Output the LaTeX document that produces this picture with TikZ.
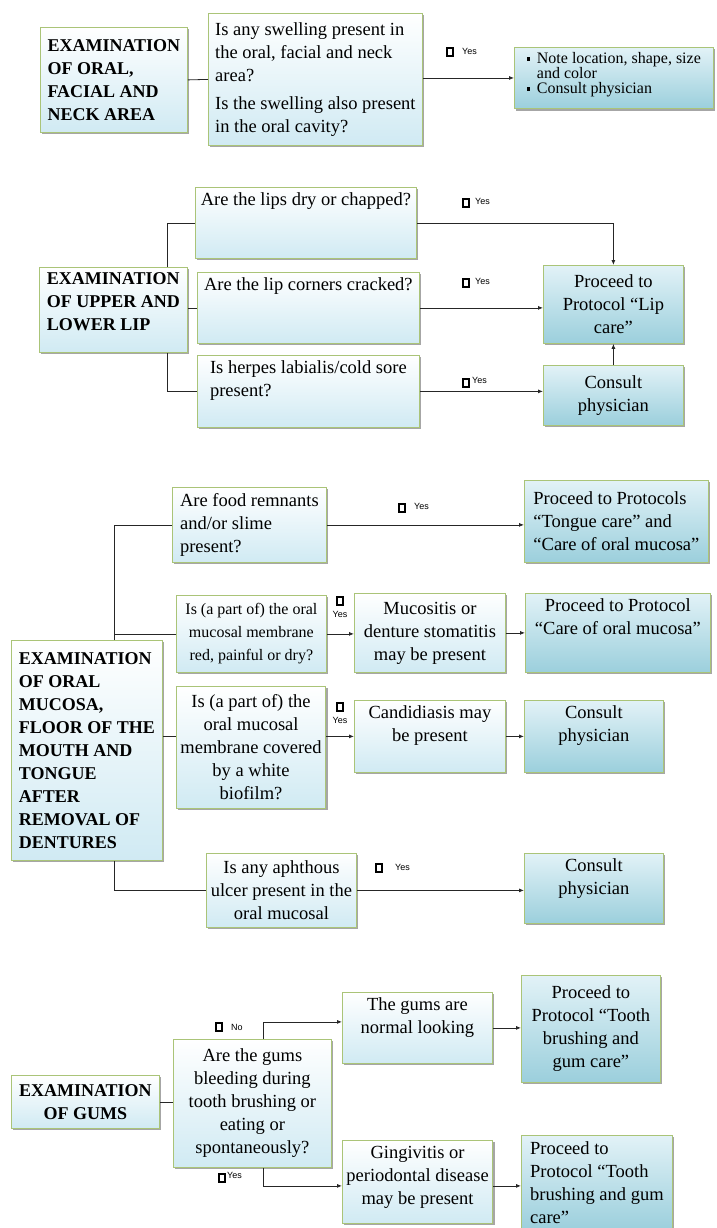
\documentclass[tikz,border=0pt]{standalone}
\usepackage{fontspec}
\setmainfont{Liberation Serif}
\newfontfamily\yesfont{Liberation Sans}
\usetikzlibrary{shadows,arrows.meta}
\definecolor{boxline}{RGB}{170,196,120}
\definecolor{qblue}{RGB}{208,234,243}
\definecolor{ptop}{RGB}{226,242,247}
\definecolor{pblue}{RGB}{155,207,220}
\newcommand{\bul}{\makebox[10pt][l]{\rule[3pt]{3.5pt}{3.5pt}}}
\tikzset{
  qbox/.style={draw=boxline, line width=0.8pt, top color=white, bottom color=qblue,
    drop shadow={shadow xshift=2pt, shadow yshift=-2pt, fill=black, opacity=0.35},
    inner xsep=4pt, inner ysep=5pt, anchor=north west, align=left,
    font=\fontsize{18.5}{23}\selectfont},
  pbox/.style={qbox, top color=ptop, bottom color=pblue},
  hbox/.style={qbox, font=\fontsize{18}{23}\selectfont\bfseries},
  chk/.style={draw, line width=1.5pt, minimum width=6pt, minimum height=8pt, inner sep=0pt},
  yes/.style={font=\yesfont\fontsize{9}{10}\selectfont, inner sep=0pt},
  link/.style={line width=0.8pt, black!85},
}

\begin{document}
\begin{tikzpicture}[x=1pt, y=-1pt, >={Latex[length=5pt,width=4pt]}]
  \fill[white] (0,0) rectangle (716,1228);
  \useasboundingbox (0,0) rectangle (716,1228);

  % oral, facial and neck area
  \node[hbox, minimum width=147pt, minimum height=105pt] (t1) at (40,27) {EXAMINATION\\OF ORAL,\\FACIAL AND\\NECK AREA};
  \node[qbox, minimum width=214pt, minimum height=132pt] (q1) at (208,13) {Is any swelling present in\\the oral, facial and neck\\area?\\[5pt]Is the swelling also present\\in the oral cavity?};
  \node[pbox, font=\fontsize{16}{15}\selectfont, minimum width=199pt, minimum height=61pt, text depth=10pt] (r1) at (514,47) {\bul Note location, shape, size\\\hspace*{10pt}and color\\\bul Consult physician};
  \draw[link] (t1.east) -- (q1.west);
  \draw[link,->] (r1.west -| q1.east) -- (r1.west);
  \node[chk] (s1) at (450,52) {};
  \node[yes, anchor=west] (y1) at (462,51) {Yes};

  % upper and lower lip
  \node[hbox, minimum width=148pt, minimum height=85pt, text depth=16pt] (t2) at (39,267) {EXAMINATION\\OF UPPER AND\\LOWER LIP};
  \node[qbox, minimum width=221pt, minimum height=71pt, text depth=48pt] (q2a) at (195,187) {Are the lips dry or chapped?};
  \node[qbox, minimum width=222pt, minimum height=71pt, text depth=48pt] (q2b) at (197,272) {Are the lip corners cracked?};
  \node[qbox, minimum width=222pt, minimum height=72pt, text depth=26pt] (q2c) at (197,355) {Is herpes labialis/cold sore\\present?};
  \node[pbox, align=center, minimum width=140pt, minimum height=78pt] (p2) at (543,265) {Proceed to\\Protocol “Lip\\care”};
  \node[pbox, align=center, minimum width=140pt, minimum height=60pt] (c2) at (543,365) {Consult\\physician};
  \draw[link] ([xshift=-20pt]t2.north east) |- (q2a.west);
  \draw[link] (q2b.west -| t2.east) -- (q2b.west);
  \draw[link] ([xshift=-20pt]t2.south east) |- (q2c.west);
  \draw[link,->] (q2a.east) -| (p2.north);
  \draw[link,->] (q2b.east) -- (q2b.east -| p2.west);
  \draw[link,->] (q2c.east) -- (q2c.east -| c2.west);
  \draw[link,->] (c2.north) -- (p2.south);
  \node[chk] (s2a) at (466,203) {};
  \node[yes, anchor=west] (y2a) at (475,201) {Yes};
  \node[chk] (s2b) at (466,283) {};
  \node[yes, anchor=west] (y2b) at (475,281) {Yes};
  \node[chk] (s2c) at (466,383) {};
  \node[yes, anchor=west] (y2c) at (472,380) {Yes};

  % oral mucosa, floor of the mouth and tongue
  \node[qbox, minimum width=154pt, minimum height=75pt] (q3a) at (172,487) {Are food remnants\\and/or slime\\present?};
  \node[pbox, minimum width=184pt, minimum height=82pt] (p3a) at (524,480) {Proceed to Protocols\\“Tongue care” and\\“Care of oral mucosa”};
  \node[hbox, minimum width=151pt, minimum height=220pt] (t3) at (11,640) {EXAMINATION\\OF ORAL\\MUCOSA,\\FLOOR OF THE\\MOUTH AND\\TONGUE\\AFTER\\REMOVAL OF\\DENTURES};
  \node[qbox, align=center, font=\fontsize{16}{23}\selectfont, minimum width=150pt, minimum height=77pt] (q3b) at (176,595) {Is (a part of) the oral\\mucosal membrane\\red, painful or dry?};
  \node[qbox, align=center, minimum width=151pt, minimum height=79pt] (m3) at (354,593) {Mucositis or\\denture stomatitis\\may be present};
  \node[pbox, align=center, minimum width=185pt, minimum height=79pt, text depth=33pt] (p3b) at (525,593) {Proceed to Protocol\\“Care of oral mucosa”};
  \node[qbox, align=center, minimum width=149pt, minimum height=122pt] (q3c) at (176,686) {Is (a part of) the\\oral mucosal\\membrane covered\\by a white\\biofilm?};
  \node[qbox, align=center, minimum width=151pt, minimum height=72pt, text depth=26pt] (c3a) at (354,700) {Candidiasis may\\be present};
  \node[pbox, align=center, minimum width=139pt, minimum height=72pt, text depth=26pt] (c3b) at (524,700) {Consult\\physician};
  \node[qbox, align=center, minimum width=150pt, minimum height=74pt] (q3d) at (206,853) {Is any aphthous\\ulcer present in the\\oral mucosal};
  \node[pbox, align=center, minimum width=139pt, minimum height=70pt, text depth=24pt] (c3c) at (524,853) {Consult\\physician};
  \coordinate (k3) at ([xshift=-48pt]t3.north east);
  \coordinate (k3b) at ([xshift=-48pt]t3.south east);
  \draw[link] (k3) |- (q3a.west);
  \draw[link] (k3 |- q3b.west) -- (q3b.west);
  \draw[link] (k3b) |- (q3d.west);
  \draw[link] (c3a.west -| t3.east) -- (c3a.west -| q3c.west);
  \draw[link,->] (q3a.east) -- (q3a.east -| p3a.west);
  \draw[link,->] (q3b.east) -- (q3b.east -| m3.west);
  \draw[link,->] (m3.east) -- (m3.east -| p3b.west);
  \draw[link,->] (c3a.west -| q3c.east) -- (c3a.west);
  \draw[link,->] (c3a.east) -- (c3a.east -| c3b.west);
  \draw[link,->] (q3d.east) -- (q3d.east -| c3c.west);
  \node[chk] (s3a) at (402,508) {};
  \node[yes, anchor=west] (y3a) at (414,506) {Yes};
  \node[chk] (s3b) at (340,601) {};
  \node[yes] (y3b) at (340,614) {Yes};
  \node[chk] (s3c) at (340,707) {};
  \node[yes] (y3c) at (340,720) {Yes};
  \node[chk] (s3d) at (379,868) {};
  \node[yes, anchor=west] (y3d) at (395,867) {Yes};

  % gums
  \node[hbox, align=center, minimum width=148pt, minimum height=53pt] (t4) at (11,1075) {EXAMINATION\\OF GUMS};
  \node[qbox, align=center, minimum width=158pt, minimum height=128pt] (q4) at (173,1039) {Are the gums\\bleeding during\\tooth brushing or\\eating or\\spontaneously?};
  \node[qbox, align=center, minimum width=150pt, minimum height=71pt, text depth=25pt] (n4) at (342,992) {The gums are\\normal looking};
  \node[pbox, align=center, minimum width=139pt, minimum height=107pt] (p4a) at (521,975) {Proceed to\\Protocol “Tooth\\brushing and\\gum care”};
  \node[qbox, align=center, minimum width=150pt, minimum height=83pt, text depth=14pt] (g4) at (342,1140) {Gingivitis or\\periodontal disease\\may be present};
  \node[pbox, minimum width=151pt, minimum height=95pt] (p4b) at (521,1135) {Proceed to\\Protocol “Tooth\\brushing and gum\\care”};
  \draw[link] (t4.east) -- (t4.east -| q4.west);
  \draw[link,->] ([xshift=11pt]q4.north) |- ([yshift=6pt]n4.west);
  \draw[link,->] ([xshift=11pt]q4.south) |- ([yshift=-4pt]g4.west);
  \draw[link,->] (n4.east) -- (n4.east -| p4a.west);
  \draw[link,->] ([yshift=-4pt]g4.east) -- ([yshift=-4pt]g4.east -| p4b.west);
  \node[chk] (s4a) at (219,1027) {};
  \node[yes, anchor=west] (y4a) at (231,1027) {No};
  \node[chk] (s4b) at (222,1178) {};
  \node[yes, anchor=west] (y4b) at (227,1175) {Yes};
\end{tikzpicture}
\end{document}
